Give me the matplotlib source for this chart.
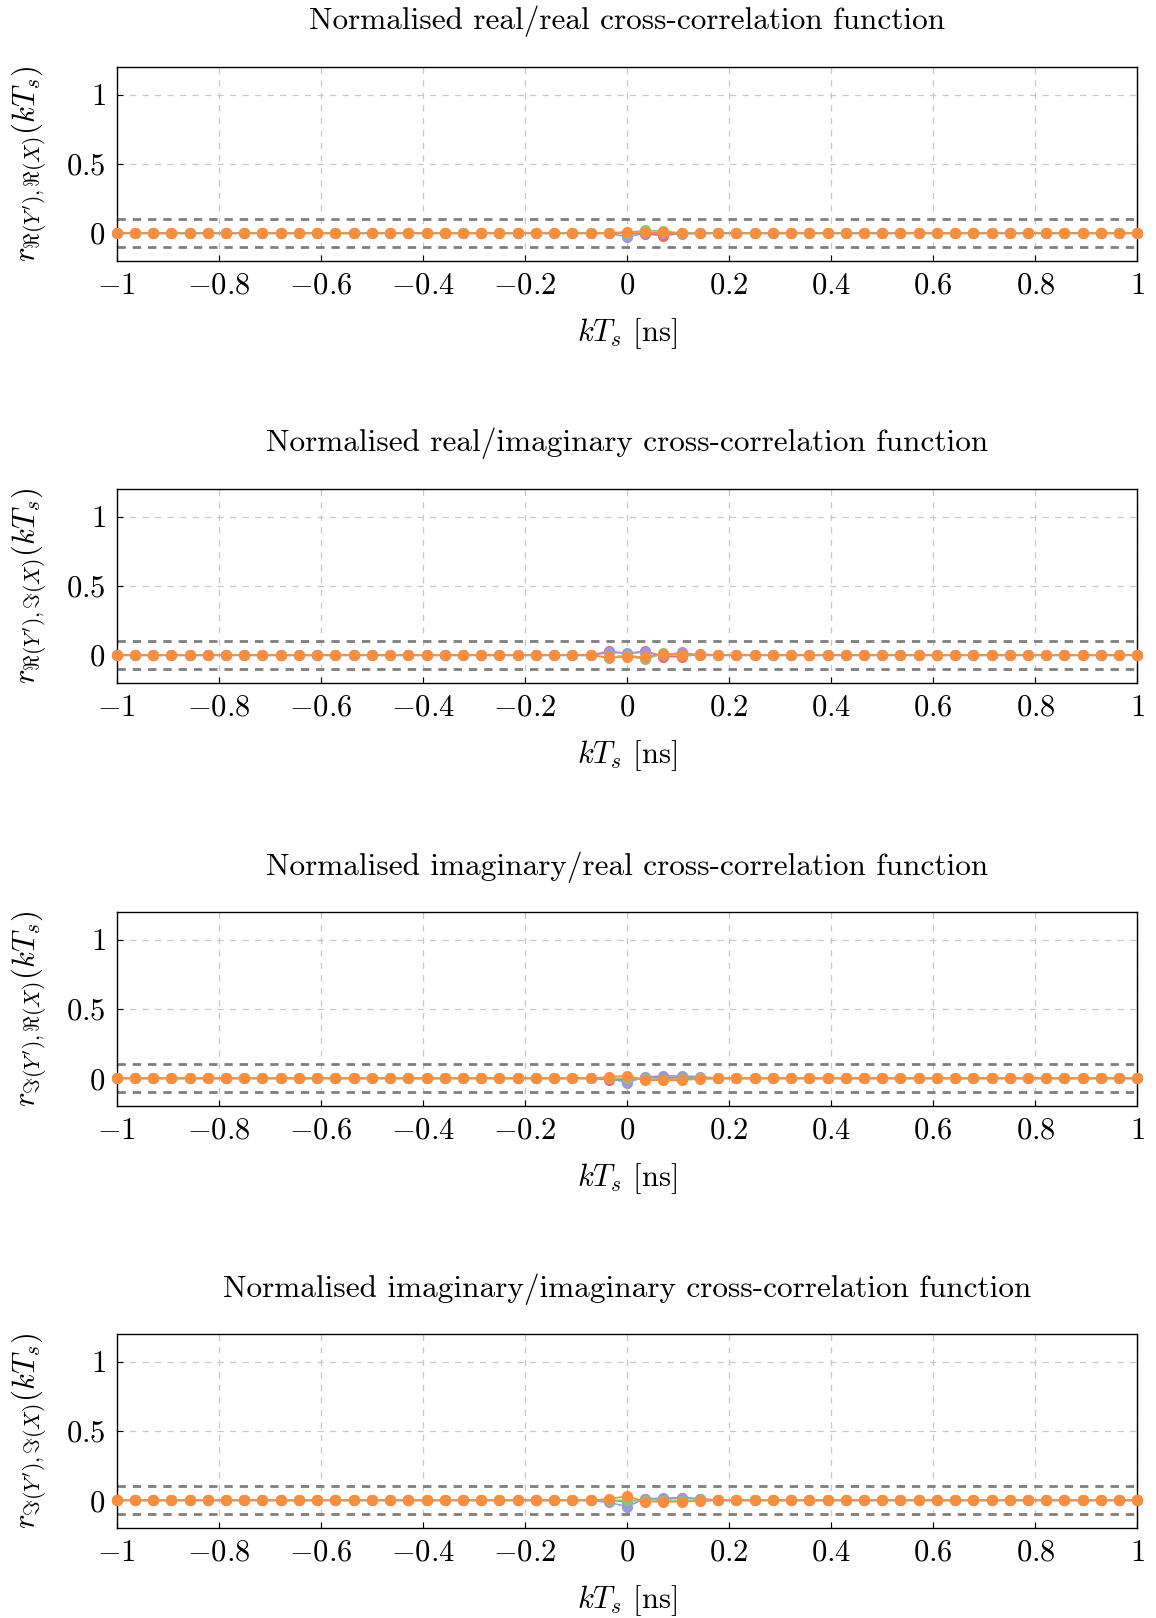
import numpy as np
import matplotlib
matplotlib.use("Agg")
import matplotlib.pyplot as plt
from matplotlib.ticker import FuncFormatter

plt.rcParams["mathtext.fontset"] = "cm"
plt.rcParams["font.family"] = ["cmr10", "DejaVu Serif"]
plt.rcParams["axes.formatter.use_mathtext"] = True

# lag axis: k = -28..28, Ts = 1/28 ns
k = np.arange(-28, 29)
kTs = k / 28.0

titles = [
    "Normalised real/real cross-correlation function",
    "Normalised real/imaginary cross-correlation function",
    "Normalised imaginary/real cross-correlation function",
    "Normalised imaginary/imaginary cross-correlation function",
]
ylabels = [
    r"$r_{\Re(Y'),\Re(X)}(kT_s)$",
    r"$r_{\Re(Y'),\Im(X)}(kT_s)$",
    r"$r_{\Im(Y'),\Re(X)}(kT_s)$",
    r"$r_{\Im(Y'),\Im(X)}(kT_s)$",
]
xticks = [-1, -0.8, -0.6, -0.4, -0.2, 0, 0.2, 0.4, 0.6, 0.8, 1]
yticks = [0, 0.5, 1]

# values; everything outside k=-2..5 sits at zero
#                        k: -2     -1     0      1      2      3      4      5
rr_red    = [0.0] * 26 + [0.0, 0.0, 0.0, -0.005, -0.017, 0.0, 0.0, 0.0] + [0.0] * 23
rr_blue   = [0.0] * 26 + [0.0, 0.0, -0.026, 0.0, 0.0, -0.005, 0.0, 0.0] + [0.0] * 23
rr_green  = [0.0] * 26 + [0.0, 0.0, 0.005, 0.02, 0.017, 0.0, 0.0, 0.0] + [0.0] * 23
rr_orange = [0.0] * 26 + [0.0, 0.0, 0.012, 0.007, 0.007, 0.0, 0.0, 0.0] + [0.0] * 23

ri_red    = [0.0] * 26 + [0.0, 0.03, 0.012, 0.03, -0.01, -0.01, 0.01, 0.0] + [0.0] * 23
ri_blue   = [0.0] * 26 + [0.0, 0.02, 0.017, 0.02, 0.0, 0.02, 0.0, 0.0] + [0.0] * 23
ri_green  = [0.0] * 26 + [0.0, -0.02, -0.005, -0.03, 0.015, 0.0, 0.0, 0.0] + [0.0] * 23
ri_orange = [0.0] * 26 + [0.0, -0.015, -0.015, -0.01, 0.01, 0.0, 0.0, 0.0] + [0.0] * 23

ir_red    = [0.0] * 26 + [0.0, -0.01, -0.01, 0.005, 0.005, 0.005, 0.0, 0.0] + [0.0] * 23
ir_blue   = [0.0] * 26 + [0.0, 0.0, -0.03, 0.01, 0.018, 0.017, 0.012, 0.0] + [0.0] * 23
ir_green  = [0.0] * 26 + [0.0, 0.0, 0.0, -0.005, -0.01, -0.005, 0.0, 0.0] + [0.0] * 23
ir_orange = [0.0] * 26 + [0.0, 0.01, 0.02, -0.013, -0.013, -0.013, -0.005, 0.0] + [0.0] * 23

ii_red    = [0.0] * 26 + [0.0, 0.0, -0.01, 0.012, 0.01, 0.015, 0.01, 0.0] + [0.0] * 23
ii_blue   = [0.0] * 26 + [0.0, -0.015, -0.045, 0.012, 0.015, 0.02, 0.012, 0.0] + [0.0] * 23
ii_green  = [0.0] * 26 + [0.0, 0.0, 0.0, -0.005, -0.005, -0.005, 0.0, 0.0] + [0.0] * 23
ii_orange = [0.0] * 26 + [0.0, 0.01, 0.03, -0.01, -0.01, -0.01, -0.005, 0.0] + [0.0] * 23

panels = [
    [rr_red, rr_blue, rr_green, rr_orange],
    [ri_red, ri_blue, ri_green, ri_orange],
    [ir_red, ir_blue, ir_green, ir_orange],
    [ii_red, ii_blue, ii_green, ii_orange],
]
colors = ["#F26B60", "#9A98DA", "#86C97C", "#FD8C3B"]
threshold = 0.1

fig = plt.figure(figsize=(11.56, 16.18), dpi=100)
bottoms = [0.8387, 0.5779, 0.3164, 0.0556]

fmt = FuncFormatter(lambda v, p: f"${round(v, 6) + 0.0:g}$")

for i in range(4):
    ax = fig.add_axes([0.1009, bottoms[i], 0.883, 0.1199])
    ax.grid(True, color="#c8c8c8", linestyle=(0, (5, 5)), linewidth=0.9)
    ax.set_axisbelow(True)
    for y0 in (threshold, -threshold):
        ax.axhline(y0, color="#7f7f7f", linestyle=(0, (3, 2.5)), linewidth=2.0, zorder=1.5)
    for series, c in zip(panels[i], colors):
        ax.plot(kTs, series, color=c, linewidth=1.2, marker="o", markersize=8,
                markeredgewidth=0, clip_on=False, zorder=3)
    ax.set_xlim(-1, 1)
    ax.set_ylim(-0.2, 1.2)
    ax.set_xticks(xticks)
    ax.set_yticks(yticks)
    ax.xaxis.set_major_formatter(fmt)
    ax.yaxis.set_major_formatter(fmt)
    ax.tick_params(direction="in", length=4, width=0.8, labelsize=22, pad=8)
    for s in ax.spines.values():
        s.set_linewidth(1.0)
    ax.set_title(titles[i], fontsize=22.5, pad=27)
    ax.set_xlabel(r"$kT_s$ [ns]", fontsize=22, labelpad=12)
    ax.set_ylabel(ylabels[i], fontsize=22, labelpad=13)

fig.savefig("out.png", dpi=100)
